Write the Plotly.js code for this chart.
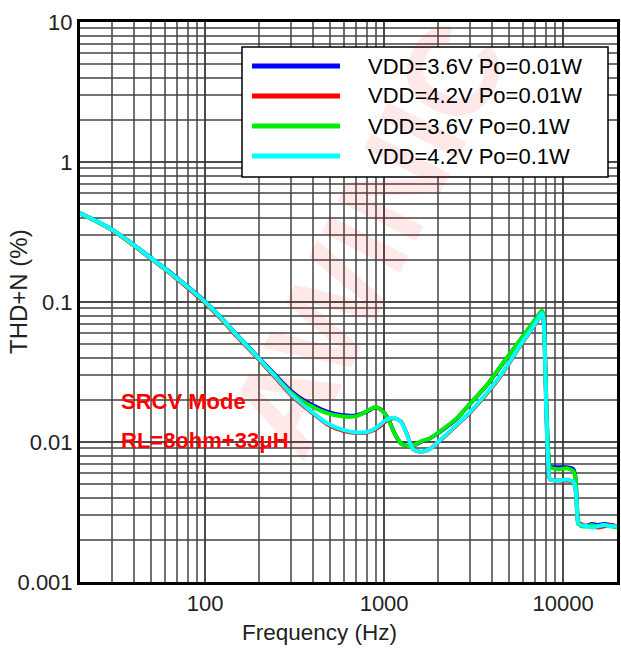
<!DOCTYPE html>
<html>
<head>
<meta charset="utf-8">
<script src="https://cdn.plot.ly/plotly-3.0.1.min.js"></script>
<style>html,body{margin:0;padding:0;background:#fff;}#chart{width:621px;height:648px;}</style>
</head>
<body>
<div id="chart"></div>
<script>
const freqHz = [20,25,30,40,50,60,70,80,100,125,150,200,250,300,350,400,480,590,700,800,890,950,1010,1080,1130,1180,1250,1340,1450,1600,1800,2050,2550,3030,3750,4530,5750,7100,7600,7750,7900,8050,8250,8450,9500,10500,11400,11700,11900,12150,12600,13500,14500,15500,17000,18500,20000];

const thdVdd36Po001 = [0.432,0.376,0.331,0.256,0.206,0.173,0.148,0.129,0.101,0.0755,
0.0585,0.0398,0.0295,0.0233,0.0201,0.0183,0.0165,0.0155,0.0155,0.0165,
0.0176,0.0172,0.0159,0.0137,0.0119,0.0107,0.0097,0.0094,0.0094,0.0100,
0.0106,0.0118,0.0147,0.0188,0.0254,0.0353,0.0532,0.0768,0.0862,0.080,
0.05,0.02,0.0085,0.0067,0.0066,0.0066,0.0064,0.0057,0.0040,0.0027,
0.00255,0.00252,0.0026,0.00255,0.0026,0.00255,0.0025];

const thdVdd42Po001 = [0.428,0.373,0.328,0.253,0.203,0.17,0.145,0.126,0.0985,0.0738,
0.057,0.0387,0.0283,0.0218,0.0183,0.016,0.0134,0.012,0.0116,0.0117,
0.0123,0.013,0.0139,0.0146,0.0148,0.0146,0.0139,0.0114,0.0089,0.0085,
0.0089,0.0102,0.0132,0.0163,0.0222,0.0302,0.0485,0.0715,0.0825,0.077,
0.045,0.017,0.007,0.0054,0.0053,0.0053,0.0052,0.0047,0.0036,0.0026,
0.0026,0.0025,0.0025,0.00245,0.0025,0.00255,0.0025];

const thdVdd36Po01 = [0.43,0.375,0.33,0.255,0.205,0.172,0.147,0.128,0.1,0.075,
0.058,0.0394,0.029,0.0228,0.0196,0.0178,0.0161,0.0152,0.0153,0.0166,
0.0178,0.0172,0.0158,0.0136,0.0119,0.0107,0.0097,0.0094,0.0094,0.0101,
0.0106,0.0119,0.0148,0.0189,0.0255,0.0355,0.0535,0.077,0.0865,0.081,
0.05,0.02,0.0085,0.0066,0.0064,0.0065,0.0062,0.0056,0.004,0.0027,
0.0025,0.0025,0.00255,0.0025,0.00255,0.0025,0.00245];

const thdVdd42Po01 = [0.43,0.375,0.33,0.255,0.205,0.172,0.147,0.128,0.1,0.075,
0.058,0.0394,0.0288,0.0222,0.0186,0.0162,0.0136,0.0122,0.0117,0.0118,
0.0125,0.0133,0.0142,0.0148,0.0149,0.0146,0.0138,0.0113,0.0089,0.0085,
0.0089,0.0103,0.0133,0.0165,0.0225,0.0305,0.049,0.072,0.083,0.077,
0.045,0.017,0.007,0.0054,0.0053,0.0054,0.0052,0.0047,0.0036,0.0026,
0.00255,0.0025,0.00245,0.0025,0.00255,0.0025,0.0025];

const seriesNames = ['VDD=3.6V Po=0.01W','VDD=4.2V Po=0.01W','VDD=3.6V Po=0.1W','VDD=4.2V Po=0.1W'];
const seriesColors = ['#0000ff','#ff0000','#00ee00','#00ffff'];
const seriesValues = [thdVdd36Po001, thdVdd42Po001, thdVdd36Po01, thdVdd42Po01];

const xTickVals = [100, 1000, 10000];
const xTickText = ['100', '1000', '10000'];
const yTickVals = [0.001, 0.01, 0.1, 1, 10];
const yTickText = ['0.001', '0.01', '0.1', '1', '10'];

const FONT = 'Arial, "Liberation Sans", sans-serif';
const W = 621, H = 648;
const M = {l: 80, r: 4, t: 22, b: 66};
const PW = W - M.l - M.r, PH = H - M.t - M.b;
const px = x => (x - M.l) / PW;
const py = y => (H - M.b - y) / PH;

const traces = seriesValues.map((vals, i) => ({
  x: freqHz, y: vals, type: 'scatter', mode: 'lines', name: seriesNames[i],
  line: {color: seriesColors[i], width: 4, shape: 'spline', smoothing: 0.6},
  showlegend: false, hoverinfo: 'skip'
}));

const gridC = 'rgba(60,60,60,0.72)';
const shapes = [];
const annotations = [];

// watermark (drawn first)
annotations.push({xref: 'paper', yref: 'paper', x: px(368), y: py(238), xanchor: 'center', yanchor: 'middle',
  text: '<b>AWINIC</b>', textangle: -63, showarrow: false, font: {family: FONT, size: 128, color: 'rgba(255,0,0,0.09)'}});

// custom legend
shapes.push({type: 'rect', xref: 'paper', yref: 'paper', x0: px(242), x1: px(608), y0: py(47), y1: py(177),
  fillcolor: '#ffffff', line: {color: '#000', width: 1.5}, layer: 'above'});
seriesNames.forEach((n, i) => {
  const yy = 66 + i * 30;
  shapes.push({type: 'line', xref: 'paper', yref: 'paper', x0: px(252), x1: px(340), y0: py(yy), y1: py(yy),
    line: {color: seriesColors[i], width: 5}, layer: 'above'});
  annotations.push({xref: 'paper', yref: 'paper', x: px(366), y: py(yy), xanchor: 'left', yanchor: 'middle',
    text: n, showarrow: false, font: {family: FONT, size: 22, color: '#000'}});
});

annotations.push({xref: 'paper', yref: 'paper', x: px(119), y: py(401), xanchor: 'left', yanchor: 'middle',
  text: '<b>SRCV Mode</b>', showarrow: false, font: {family: FONT, size: 22, color: '#ff0000'}});
annotations.push({xref: 'paper', yref: 'paper', x: px(119), y: py(440), xanchor: 'left', yanchor: 'middle',
  text: '<b>RL=8ohm+33μH</b>', showarrow: false, font: {family: FONT, size: 22, color: '#ff0000'}});
annotations.push({xref: 'paper', yref: 'paper', x: px(319), y: py(632), xanchor: 'center', yanchor: 'middle',
  text: 'Frequency (Hz)', showarrow: false, font: {family: FONT, size: 22.5, color: '#222'}});
annotations.push({xref: 'paper', yref: 'paper', x: px(18), y: py(292), xanchor: 'center', yanchor: 'middle',
  text: 'THD+N (%)', textangle: -90, showarrow: false, font: {family: FONT, size: 24, color: '#222'}});

const layout = {
  width: W, height: H, margin: M,
  paper_bgcolor: '#fff', plot_bgcolor: '#fff',
  font: {family: FONT, size: 22, color: '#222'},
  showlegend: false,
  xaxis: {type: 'log', range: [Math.log10(20), Math.log10(20000)],
    tickvals: xTickVals, ticktext: xTickText, ticks: '',
    showgrid: true, gridcolor: gridC, gridwidth: 2,
    minor: {dtick: 'D1', showgrid: true, gridcolor: gridC, gridwidth: 2, ticks: ''},
    showline: true, linecolor: '#000', linewidth: 3, mirror: true, zeroline: false,
    tickfont: {family: FONT, size: 22, color: '#222'}},
  yaxis: {type: 'log', range: [-3, 1],
    tickvals: yTickVals, ticktext: yTickText, ticks: '',
    showgrid: true, gridcolor: gridC, gridwidth: 2,
    minor: {dtick: 'D1', showgrid: true, gridcolor: gridC, gridwidth: 2, ticks: ''},
    showline: true, linecolor: '#000', linewidth: 3, mirror: true, zeroline: false,
    tickfont: {family: FONT, size: 22, color: '#222'}},
  shapes: shapes,
  annotations: annotations
};

Plotly.newPlot('chart', traces, layout, {displayModeBar: false, staticPlot: true});
</script>
</body>
</html>
